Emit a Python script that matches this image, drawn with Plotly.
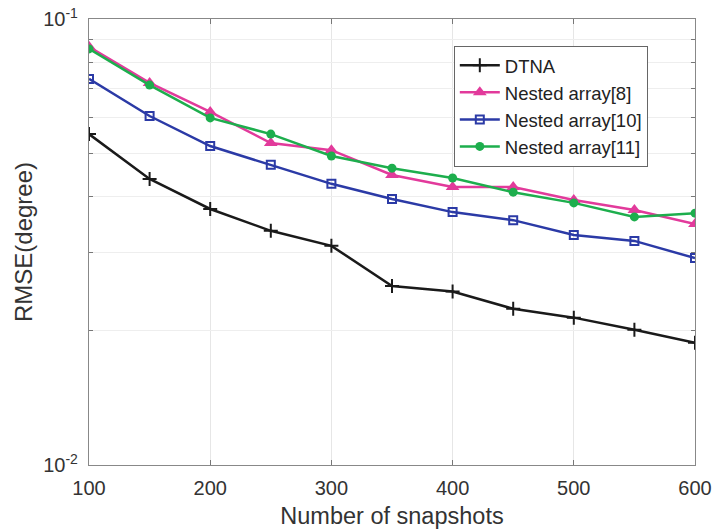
import plotly.graph_objects as go

snapshots = [100, 150, 200, 250, 300, 350, 400, 450, 500, 550, 600]
dtna = [0.0552, 0.0438, 0.0375, 0.0335, 0.0310, 0.0252, 0.0245, 0.0224, 0.0214, 0.0201, 0.0188]
nested8 = [0.0866, 0.0719, 0.0619, 0.0527, 0.0508, 0.0447, 0.0420, 0.0420, 0.0393, 0.0373, 0.0347]
nested10 = [0.0734, 0.0606, 0.0519, 0.0471, 0.0427, 0.0395, 0.0369, 0.0354, 0.0328, 0.0318, 0.0291]
nested11 = [0.0857, 0.0711, 0.0600, 0.0552, 0.0493, 0.0463, 0.0440, 0.0409, 0.0387, 0.0360, 0.0367]

x_ticks = [100, 200, 300, 400, 500, 600]
y_ticks = [0.01, 0.02, 0.03, 0.04, 0.05, 0.06, 0.07, 0.08, 0.09, 0.1]
y_ticktext = ["10<sup>-2</sup>", " ", " ", " ", " ", " ", " ", " ", " ", "10<sup>-1</sup>"]

FONT = "Liberation Sans, Arial, sans-serif"

fig = go.Figure()
fig.add_trace(go.Scatter(x=snapshots, y=dtna, name="DTNA", mode="lines+markers",
                         line=dict(color="#1a1a1a", width=2.5),
                         marker=dict(symbol="cross-thin", size=10,
                                     line=dict(color="#1a1a1a", width=2))))
fig.add_trace(go.Scatter(x=snapshots, y=nested8, name="Nested array[8]", mode="lines+markers",
                         line=dict(color="#E23A9B", width=2.5),
                         marker=dict(symbol="triangle-up", size=12, color="#E23A9B")))
fig.add_trace(go.Scatter(x=snapshots, y=nested10, name="Nested array[10]", mode="lines+markers",
                         line=dict(color="#2B3AA6", width=2.5),
                         marker=dict(symbol="square-open", size=8,
                                     line=dict(color="#2B3AA6", width=2))))
fig.add_trace(go.Scatter(x=snapshots, y=nested11, name="Nested array[11]", mode="lines+markers",
                         line=dict(color="#1DAE4D", width=2.5),
                         marker=dict(symbol="circle", size=9, color="#1DAE4D")))

fig.update_layout(
    width=714, height=531,
    margin=dict(l=89, r=19, t=19, b=66),
    paper_bgcolor="white", plot_bgcolor="white",
    font=dict(family=FONT, color="#333333"),
    legend=dict(x=0.602, y=0.94, xanchor="left", yanchor="top",
                bgcolor="white", bordercolor="#666666", borderwidth=1,
                font=dict(size=18.5, family=FONT, color="#222222"),
                tracegroupgap=0, itemwidth=40),
    xaxis=dict(range=[100, 600], tickvals=x_ticks, ticks="inside", ticklen=5,
               tickcolor="#777777", showline=True, linecolor="#888888", linewidth=1.2,
               mirror="ticks", showgrid=True, gridcolor="#e6e6e6", gridwidth=1,
               automargin=False, ticklabelstandoff=5, ticklabeloverflow="allow",
               tickfont=dict(size=20, family=FONT, color="#333333"),
               title=dict(text="Number of snapshots", standoff=9,
                          font=dict(size=23.5, family=FONT, color="#333333")),
               zeroline=False),
    yaxis=dict(type="log", range=[-2, -1], tickvals=y_ticks, ticktext=y_ticktext,
               ticks="inside", ticklen=4, tickcolor="#777777",
               showline=True, linecolor="#888888", linewidth=1.2, mirror="ticks",
               showgrid=True, gridcolor="#eeeeee", gridwidth=1,
               automargin=False, ticklabelstandoff=6, ticklabeloverflow="allow",
               tickfont=dict(size=20, family=FONT, color="#333333"),
               title=dict(text="RMSE(degree)", standoff=3,
                          font=dict(size=24, family=FONT, color="#333333")),
               zeroline=False),
)

fig.write_html(
    "out.html",
    config={"displayModeBar": False},
    post_script="document.body.style.margin='0';document.body.style.overflow='hidden';",
)
